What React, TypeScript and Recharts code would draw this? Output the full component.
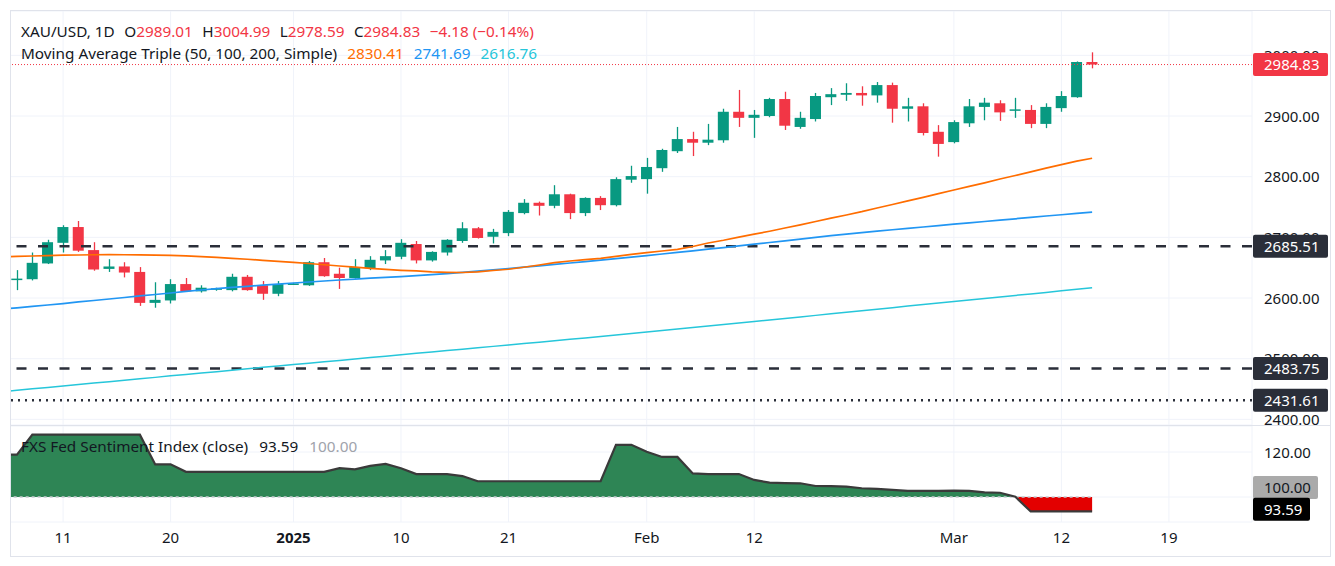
import { ComposedChart, Bar, Line, Area, XAxis, YAxis, CartesianGrid, ReferenceLine } from 'recharts';

// XAU/USD daily bars, 6 Dec 2024 .. 14 Mar 2025
const OPEN = [
  2630, 2631, 2657, 2691, 2717, 2679, 2648, 2652, 2643, 2592,
  2596, 2623, 2611, 2614, 2613, 2635, 2621, 2607, 2623, 2621,
  2659, 2640, 2633, 2649, 2662, 2668, 2689, 2662, 2675, 2694,
  2715, 2701, 2707, 2740, 2757, 2752, 2771, 2740, 2765, 2753,
  2795, 2796, 2814, 2842, 2862, 2856, 2860, 2907, 2897, 2900,
  2928, 2882, 2895, 2931, 2935, 2938, 2934, 2951, 2912, 2916,
  2874, 2857, 2888, 2915, 2921, 2910, 2910, 2887, 2913, 2931,
  2989.01,
];
const HIGH = [
  2646, 2675, 2696, 2720, 2727, 2692, 2664, 2659, 2651, 2626,
  2631, 2633, 2621, 2617, 2640, 2638, 2628, 2628, 2625, 2661,
  2666, 2650, 2664, 2669, 2679, 2697, 2694, 2677, 2697, 2725,
  2717, 2714, 2745, 2763, 2759, 2786, 2772, 2766, 2768, 2799,
  2818, 2831, 2846, 2882, 2874, 2887, 2912, 2943, 2910, 2930,
  2940, 2907, 2938, 2946, 2954, 2949, 2956, 2955, 2930, 2921,
  2885, 2893, 2928, 2930, 2926, 2930, 2918, 2921, 2941, 2990,
  3004.99,
];
const LOW = [
  2613, 2629, 2656, 2675, 2676, 2645, 2643, 2634, 2587, 2584,
  2591, 2610, 2609, 2612, 2611, 2612, 2597, 2603, 2622, 2620,
  2635, 2615, 2632, 2646, 2656, 2664, 2657, 2660, 2670, 2691,
  2698, 2690, 2702, 2738, 2736, 2748, 2730, 2735, 2745, 2751,
  2790, 2772, 2808, 2839, 2834, 2852, 2856, 2882, 2864, 2898,
  2877, 2879, 2891, 2918, 2925, 2917, 2922, 2889, 2891, 2868,
  2833, 2855, 2882, 2893, 2892, 2897, 2880, 2880, 2907, 2930,
  2978.59,
];
const CLOSE = [
  2632, 2658, 2692, 2717, 2678, 2647, 2652, 2642, 2592, 2597,
  2623, 2611, 2617, 2616, 2635, 2613, 2607, 2623, 2624, 2659,
  2636, 2633, 2651, 2663, 2669, 2691, 2662, 2676, 2696, 2715,
  2699, 2709, 2742, 2757, 2752, 2771, 2740, 2765, 2753, 2796,
  2801, 2816, 2844, 2862, 2856, 2861, 2907, 2897, 2902, 2928,
  2884, 2897, 2933, 2936, 2938, 2934, 2951, 2912, 2916, 2872,
  2854, 2890, 2916, 2922, 2906, 2911, 2887, 2915, 2933, 2989.01,
  2984.83,
];

// the overlays start one bar earlier (5 Dec) so they run in from the left edge
const MA50 = [
  2668.0, 2668.5, 2669.3, 2670.0, 2670.6, 2670.9, 2671.3, 2671.4, 2671.3, 2671.1, 2670.8,
  2670.3, 2669.4, 2668.3, 2667.0, 2665.5, 2663.9, 2662.2, 2660.5, 2658.9, 2656.9,
  2654.8, 2652.8, 2650.8, 2649.0, 2647.3, 2645.7, 2644.6, 2643.2, 2642.4, 2642.1,
  2643.2, 2645.4, 2647.4, 2650.7, 2654.4, 2658.2, 2661.0, 2663.2, 2665.5, 2668.5,
  2671.8, 2674.7, 2677.5, 2680.3, 2684.9, 2690.7, 2695.2, 2700.3, 2705.2, 2710.1,
  2715.4, 2720.7, 2726.1, 2731.6, 2736.8, 2742.3, 2748.4, 2754.2, 2760.2, 2766.0,
  2772.0, 2778.0, 2784.0, 2789.9, 2796.2, 2801.9, 2807.9, 2814.0, 2819.9, 2825.7,
  2830.41,
];
const MA100 = [
  2581.6, 2583.9, 2586.2, 2588.5, 2590.8, 2593.5, 2595.9, 2598.4, 2600.9, 2603.4, 2605.8,
  2608.3, 2610.8, 2613.2, 2615.4, 2617.4, 2619.3, 2621.2, 2623.0, 2624.8, 2626.4,
  2628.1, 2629.7, 2631.2, 2632.7, 2634.0, 2635.3, 2636.8, 2638.5, 2640.3, 2642.3,
  2644.2, 2646.4, 2648.5, 2650.8, 2653.1, 2655.4, 2657.7, 2660.0, 2662.5, 2665.0,
  2667.5, 2669.9, 2672.6, 2675.2, 2677.8, 2680.5, 2683.1, 2685.8, 2688.7, 2691.5,
  2694.3, 2697.1, 2699.9, 2702.7, 2705.4, 2707.8, 2710.2, 2712.5, 2714.8, 2717.1,
  2719.4, 2721.7, 2724.0, 2726.1, 2728.4, 2730.6, 2732.9, 2735.2, 2737.3, 2739.6,
  2741.69,
];
const MA200 = [
  2445.5, 2448.0, 2450.3, 2452.7, 2455.0, 2457.5, 2459.8, 2462.1, 2464.6, 2466.9, 2469.2,
  2471.7, 2474.0, 2476.3, 2478.6, 2480.9, 2483.4, 2485.7, 2488.0, 2490.3, 2492.6,
  2494.9, 2497.2, 2499.5, 2501.8, 2504.2, 2506.5, 2508.8, 2511.1, 2513.4, 2515.7,
  2518.0, 2520.3, 2522.6, 2524.9, 2527.2, 2529.5, 2532.0, 2534.3, 2536.6, 2539.1,
  2541.6, 2544.0, 2546.5, 2549.0, 2551.4, 2553.9, 2556.4, 2558.9, 2561.3, 2563.8,
  2566.3, 2568.8, 2571.4, 2573.9, 2576.5, 2579.0, 2581.6, 2584.1, 2586.7, 2589.4,
  2591.8, 2594.3, 2596.8, 2599.3, 2601.8, 2604.3, 2606.8, 2609.3, 2611.8, 2614.3,
  2616.76,
];
const FED = [
  118.8, 118.8, 127.7, 127.7, 127.7, 127.7, 127.7, 127.7, 127.7, 127.7, 114.5,
  114.5, 111.2, 111.2, 111.2, 111.2, 111.2, 111.2, 111.2, 111.2, 111.2,
  111.2, 112.8, 112.3, 113.8, 114.7, 112.8, 110.2, 110.2, 110.2, 109.3,
  107.0, 107.0, 107.0, 107.0, 107.0, 107.0, 107.0, 107.0, 107.0, 123.2,
  123.2, 120.1, 117.8, 117.8, 110.5, 110.2, 110.2, 110.2, 107.6, 106.4,
  106.2, 106.1, 104.9, 104.8, 104.6, 103.9, 103.6, 103.2, 102.7, 102.7,
  102.7, 102.8, 102.7, 102.1, 101.9, 100.1, 93.59, 93.59, 93.59, 93.59,
  93.59,
];
const FED_BASE = 100;

const PRICE_TICKS = [2400, 2500, 2600, 2700, 2800, 2900, 3000];
const FED_TICKS = [100, 120];
const TIME_TICKS = [3, 10, 18, 25, 32, 41, 48, 61, 68, 75];
const TIME_LABELS = ['11', '20', '2025', '10', '21', 'Feb', '12', 'Mar', '12', '19'];
const LEVEL_HIGH = 2685.51;
const LEVEL_MID = 2483.75;
const LEVEL_LOW = 2431.61;

const FONT = '"Noto Sans", "DejaVu Sans", sans-serif';
const INK = '#131722';
const GRID = '#f0f3fa';
const FRAME = '#e0e3eb';
const UP = '#089981';
const DOWN = '#f23645';
const LEVEL = '#2a2e39';
const ORANGE = '#ff6d00';
const BLUE = '#2196f3';
const CYAN = '#26c6da';

const W = 1320;
const AXIS_W = 78;
const TOP_H = 414;
const BOT_H = 130;
const TIME_H = 34;
const X_DOMAIN: [number, number] = [-0.456, 80.41];
const PRICE_DOMAIN: [number, number] = [2390.7, 3073.1];
const FED_DOMAIN: [number, number] = [88.89, 131.56];

const rows = MA50.map((_, k) => {
  const i = k - 1;
  const bar = i >= 0 && i < OPEN.length;
  return {
    i,
    o: bar ? OPEN[i] : null,
    h: bar ? HIGH[i] : null,
    l: bar ? LOW[i] : null,
    c: bar ? CLOSE[i] : null,
    range: bar ? [LOW[i], HIGH[i]] : null,
    ma50: MA50[k],
    ma100: MA100[k],
    ma200: MA200[k],
    fed: FED[k],
    fedUp: Math.max(FED[k], FED_BASE),
    fedDown: Math.min(FED[k], FED_BASE),
    base: FED_BASE,
  };
});

const last = OPEN.length - 1;
const change = CLOSE[last] - CLOSE[last - 1];
const changePct = (change / CLOSE[last - 1]) * 100;
const signed = (v: number, d = 2) => (v < 0 ? '\u2212' : '+') + Math.abs(v).toFixed(d);

function Candle(props: any) {
  const { x, y, width, height, payload } = props;
  if (!payload || payload.o == null || !isFinite(y)) return null;
  const { o, h, l, c } = payload;
  const color = c >= o ? UP : DOWN;
  const k = height / (h - l || 1);
  const yOf = (v: number) => y + (h - v) * k;
  const top = yOf(Math.max(o, c));
  const bottom = yOf(Math.min(o, c));
  const mid = Math.round(x + width / 2) + 0.5;
  return (
    <g>
      <line x1={mid} x2={mid} y1={y} y2={y + height} stroke={color} strokeWidth={1.3} />
      <rect x={x} y={top} width={width} height={Math.max(bottom - top, 1.5)} fill={color} />
    </g>
  );
}

const PriceTick = (p: any) => (
  <text x={p.x + 4} y={p.y} dy={5.5} fill={INK} fontSize={15} fontFamily={FONT} textAnchor="start">
    {Number(p.payload.value).toFixed(2)}
  </text>
);

const FedTick = (p: any) =>
  p.payload.value === FED_BASE ? (
    <g />
  ) : (
    <text x={p.x + 4} y={p.y} dy={5.5} fill={INK} fontSize={15} fontFamily={FONT} textAnchor="start">
      {Number(p.payload.value).toFixed(2)}
    </text>
  );

const TimeTick = (p: any) => {
  const label = TIME_LABELS[TIME_TICKS.indexOf(p.payload.value)] ?? '';
  return (
    <text x={p.x} y={p.y} dy={13} fill={INK} fontSize={15} fontFamily={FONT} textAnchor="middle"
      fontWeight={label === '2025' ? 700 : 400}>
      {label}
    </text>
  );
};

// value badge sitting on the price scale, right of the plot
function badge(text: string, bg: string, fg: string, width: number, shift = 0) {
  return (p: any) => {
    const vb = p.viewBox;
    const left = vb.x + vb.width + 1;
    const cy = vb.y + shift;
    return (
      <g>
        <rect x={left} y={cy - 11.5} width={width} height={23} rx={2} fill={bg} />
        <text x={left + 11} y={cy} dy={5.5} fill={fg} fontSize={15} fontFamily={FONT}>{text}</text>
      </g>
    );
  };
}

const noMargin = { top: 0, right: 0, bottom: 0, left: 0 };
const legendFont = `15.3px ${FONT}`;

export default function App() {
  return (
    <div style={{ position: 'absolute', left: 0, top: 0, width: 1335, height: 566, background: '#fff', overflow: 'hidden' }}>
      {/* price pane */}
      <div style={{ position: 'absolute', left: 10, top: 11 }}>
        <ComposedChart width={W} height={TOP_H} data={rows} margin={noMargin} style={{ overflow: 'visible' }}>
          <CartesianGrid stroke={GRID} />
          <XAxis type="number" dataKey="i" domain={X_DOMAIN} allowDataOverflow ticks={TIME_TICKS} hide />
          <YAxis orientation="right" width={AXIS_W} domain={PRICE_DOMAIN} allowDataOverflow ticks={PRICE_TICKS}
            interval={0} axisLine={false} tickLine={false} tick={PriceTick} />
          <ReferenceLine y={LEVEL_HIGH} stroke={LEVEL} strokeWidth={2.5} strokeDasharray="10 11.5" />
          <ReferenceLine y={LEVEL_MID} stroke={LEVEL} strokeWidth={2.5} strokeDasharray="10 11.5" />
          <ReferenceLine y={LEVEL_LOW} stroke={LEVEL} strokeWidth={2.5} strokeDasharray="2 5" />
          <Bar dataKey="range" barSize={11} shape={Candle} isAnimationActive={false} />
          <Line dataKey="ma200" type="linear" stroke={CYAN} strokeWidth={1.5} dot={false} isAnimationActive={false} />
          <Line dataKey="ma100" type="linear" stroke={BLUE} strokeWidth={1.7} dot={false} isAnimationActive={false} />
          <Line dataKey="ma50" type="linear" stroke={ORANGE} strokeWidth={1.7} dot={false} isAnimationActive={false} />
          <ReferenceLine y={CLOSE[last]} stroke={DOWN} strokeWidth={1} strokeDasharray="1 2" />
        </ComposedChart>
      </div>
      <div style={{ position: 'absolute', left: 10, top: 11 }}>
        <ComposedChart width={W} height={TOP_H} data={rows} margin={noMargin}>
          <XAxis type="number" dataKey="i" domain={X_DOMAIN} allowDataOverflow hide />
          <YAxis orientation="right" width={AXIS_W} domain={PRICE_DOMAIN} allowDataOverflow tick={false}
            axisLine={false} tickLine={false} />
          <ReferenceLine y={CLOSE[last]} stroke="none" label={badge(CLOSE[last].toFixed(2), DOWN, '#fff', 75)} />
          <ReferenceLine y={LEVEL_HIGH} stroke="none" label={badge(LEVEL_HIGH.toFixed(2), LEVEL, '#fff', 75)} />
          <ReferenceLine y={LEVEL_MID} stroke="none" label={badge(LEVEL_MID.toFixed(2), LEVEL, '#fff', 75)} />
          <ReferenceLine y={LEVEL_LOW} stroke="none" label={badge(LEVEL_LOW.toFixed(2), LEVEL, '#fff', 75)} />
        </ComposedChart>
      </div>

      {/* Fed sentiment pane + time scale */}
      <div style={{ position: 'absolute', left: 10, top: 426 }}>
        <ComposedChart width={W} height={BOT_H} data={rows} margin={noMargin}>
          <CartesianGrid stroke={GRID} />
          <XAxis type="number" dataKey="i" domain={X_DOMAIN} allowDataOverflow ticks={TIME_TICKS} interval={0}
            height={TIME_H} axisLine={false} tickLine={false} tick={TimeTick} />
          <YAxis orientation="right" width={AXIS_W} domain={FED_DOMAIN} allowDataOverflow ticks={FED_TICKS}
            interval={0} axisLine={false} tickLine={false} tick={FedTick} />
          <Area dataKey="fedUp" type="linear" baseValue={FED_BASE} fill="#2e8555" fillOpacity={1} stroke="none"
            isAnimationActive={false} />
          <Area dataKey="fedDown" type="linear" baseValue={FED_BASE} fill="#e30000" fillOpacity={1} stroke="none"
            isAnimationActive={false} />
          <Line dataKey="base" type="linear" stroke="#c8cacf" strokeWidth={1.5} strokeDasharray="3 3" dot={false}
            isAnimationActive={false} />
          <Line dataKey="fed" type="linear" stroke="#3a3a3a" strokeWidth={2.2} dot={false} isAnimationActive={false} />
        </ComposedChart>
      </div>
      <div style={{ position: 'absolute', left: 10, top: 426 }}>
        <ComposedChart width={W} height={BOT_H} data={rows} margin={noMargin}>
          <XAxis type="number" dataKey="i" domain={X_DOMAIN} allowDataOverflow height={TIME_H} tick={false}
            axisLine={false} tickLine={false} />
          <YAxis orientation="right" width={AXIS_W} domain={FED_DOMAIN} allowDataOverflow tick={false}
            axisLine={false} tickLine={false} />
          <ReferenceLine y={FED_BASE} stroke="none" label={badge(FED_BASE.toFixed(2), '#aaaaaa', INK, 65, -9.5)} />
          <ReferenceLine y={FED[FED.length - 1]} stroke="none"
            label={badge(FED[FED.length - 1].toFixed(2), '#000', '#fff', 57, -2.2)} />
        </ComposedChart>
      </div>

      {/* legends */}
      <div style={{ position: 'absolute', left: 21, top: 21, font: legendFont, color: INK, lineHeight: '20px', whiteSpace: 'nowrap' }}>
        <div style={{ display: 'flex', gap: 9.5 }}>
          <span>XAU/USD, 1D</span>
          <span>O<span style={{ color: DOWN }}>{OPEN[last].toFixed(2)}</span></span>
          <span>H<span style={{ color: DOWN }}>{HIGH[last].toFixed(2)}</span></span>
          <span>L<span style={{ color: DOWN }}>{LOW[last].toFixed(2)}</span></span>
          <span>C<span style={{ color: DOWN }}>{CLOSE[last].toFixed(2)}</span></span>
          <span style={{ color: DOWN }}>{signed(change)} ({signed(changePct)}%)</span>
        </div>
        <div style={{ display: 'flex', gap: 10, marginTop: 2 }}>
          <span>Moving Average Triple (50, 100, 200, Simple)</span>
          <span style={{ color: ORANGE }}>{MA50[MA50.length - 1].toFixed(2)}</span>
          <span style={{ color: BLUE }}>{MA100[MA100.length - 1].toFixed(2)}</span>
          <span style={{ color: CYAN }}>{MA200[MA200.length - 1].toFixed(2)}</span>
        </div>
      </div>
      <div style={{ position: 'absolute', left: 21, top: 436, font: legendFont, color: INK, lineHeight: '20px', whiteSpace: 'nowrap', display: 'flex', gap: 11 }}>
        <span>FXS Fed Sentiment Index (close)</span>
        <span>{FED[FED.length - 1].toFixed(2)}</span>
        <span style={{ color: '#a0a3ab' }}>{FED_BASE.toFixed(2)}</span>
      </div>

      {/* frame and pane divider */}
      <div style={{ position: 'absolute', left: 10, top: 425, width: 1320, height: 1, background: FRAME }} />
      <div style={{ position: 'absolute', left: 10, top: 10, width: 1321, height: 547, boxSizing: 'border-box', border: `1px solid ${FRAME}`, pointerEvents: 'none' }} />
    </div>
  );
}
